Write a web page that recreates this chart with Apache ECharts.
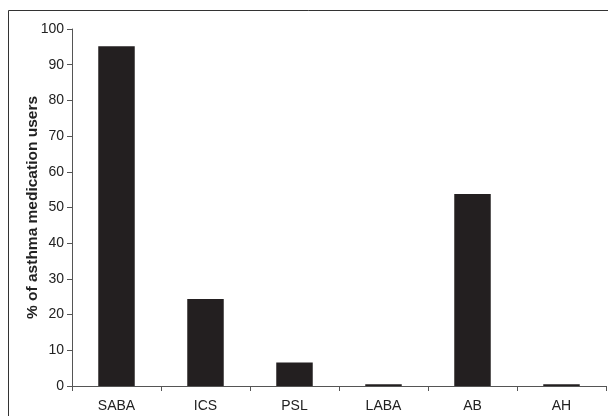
<!DOCTYPE html>
<html><head><meta charset="utf-8">
<script src="https://cdn.jsdelivr.net/npm/echarts@6/dist/echarts.min.js"></script>
<style>html,body{margin:0;padding:0;background:#fff}#c{width:608px;height:416px}</style>
</head><body><div id="c"></div>
<script>
const categories = ['SABA','ICS','PSL','LABA','AB','AH'];
const values = [95.2, 24.4, 6.6, 0.5, 53.8, 0.5];
const yTicks = {min:0, max:100, interval:10};
const yTitle = '% of asthma medication users';

const chart = echarts.init(document.getElementById('c'), null, {renderer:'canvas'});
chart.setOption({
  animation:false,
  backgroundColor:'#fff',
  graphic:[{type:'rect', shape:{x:8.5,y:10.5,width:700,height:500}, style:{fill:'none', stroke:'#333', lineWidth:1}, z:-1}],
  grid:{left:72, right:2, top:29, bottom:30},
  xAxis:{type:'category', data:categories,
    axisLine:{lineStyle:{color:'#555', width:1}},
    axisTick:{show:true, length:5, lineStyle:{color:'#555'}},
    axisLabel:{color:'#222', fontFamily:'Liberation Sans, Arial', fontSize:14, margin:13}
  },
  yAxis:{type:'value', min:yTicks.min, max:yTicks.max, interval:yTicks.interval,
    name:yTitle, nameLocation:'middle', nameGap:31, nameRotate:90, nameMoveOverlap:false,
    nameTextStyle:{color:'#222', fontFamily:'Liberation Sans, Arial', fontSize:15.5, fontWeight:'bold'},
    axisLine:{show:true, lineStyle:{color:'#555', width:1}},
    axisTick:{show:true, length:5, lineStyle:{color:'#555'}},
    axisLabel:{color:'#222', fontFamily:'Liberation Sans, Arial', fontSize:14, margin:8},
    splitLine:{show:false}
  },
  series:[{type:'bar', data:values, barWidth:'41%',
    itemStyle:{color:'#231f20'}}]
});
</script></body></html>
